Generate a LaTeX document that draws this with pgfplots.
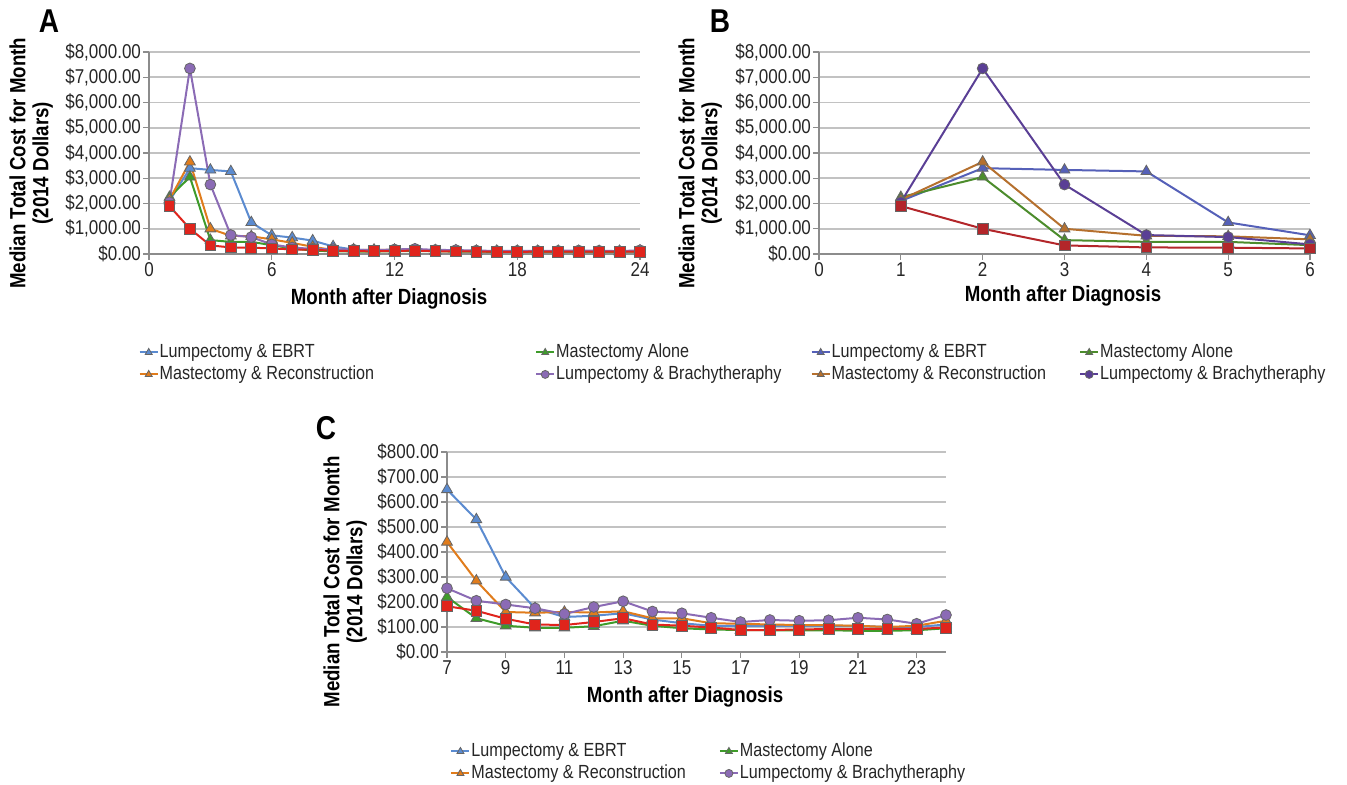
\documentclass[border=0pt]{standalone}
\usepackage{fontspec}
\setmainfont{Liberation Sans}[FakeStretch=0.85]
\usepackage{pgfplots}
\usepackage{pgfplotstable}
\pgfplotsset{compat=1.18}

\definecolor{ebrtA}{HTML}{5B8BD0}
\definecolor{aloneA}{HTML}{3E9B2A}
\definecolor{reconA}{HTML}{E07C1C}
\definecolor{brachyA}{HTML}{8B6BB5}
\definecolor{redA}{HTML}{E0241C}
\definecolor{ebrtB}{HTML}{5560B8}
\definecolor{aloneB}{HTML}{4C8C2C}
\definecolor{reconB}{HTML}{B5702E}
\definecolor{brachyB}{HTML}{5A3F95}
\definecolor{redB}{HTML}{B3262A}

\pgfplotstableread{
month ebrt alone recon brachy red
1 2100 2250 2150 2050 1900
2 3400 3050 3650 7350 1000
3 3330 550 1000 2750 340
4 3270 480 720 750 260
5 1250 480 700 670 250
6 740 350 580 380 220
7 650 220 440 255 183
8 530 135 285 205 165
9 300 105 160 190 133
10 175 97 157 175 110
11 140 97 160 152 108
12 145 103 158 180 120
13 155 125 163 203 135
14 130 105 135 162 110
15 115 95 135 155 105
16 105 90 115 137 98
17 105 88 113 120 88
18 105 87 110 128 88
19 105 87 108 125 90
20 105 87 107 127 92
21 105 85 105 137 92
22 100 85 100 130 93
23 100 87 105 113 92
24 110 95 125 148 98
}\costdata

\pgfplotsset{
  panel/.style={
    scale only axis,
    axis x line*=bottom, axis y line*=left,
    axis line style={draw=black!45, line width=0.8pt},
    ymajorgrids, grid style={draw=black!24, line width=0.8pt},
    tick align=outside, major tick length=3pt,
    tick style={draw=black!45, line width=0.6pt},
    tick label style={font=\fontsize{10}{11}\selectfont, text=black!85},
    yticklabel style={xshift=2.5pt},
    xticklabel style={inner sep=1pt},
    /pgf/number format/assume math mode=true,
    label style={font=\bfseries\fontsize{11}{11.5}\selectfont},
    ylabel style={align=center, anchor=center},
    xlabel style={anchor=center},
    legend columns=2,
    legend cell align=left,
    legend style={draw=none, fill=none, anchor=north west,
      font=\fontsize{9.5}{11}\selectfont, text=black!85,
      nodes={inner sep=0.5pt, text height=7.5pt, text depth=2.5pt}},
    legend image code/.code={\draw[mark repeat=2,mark phase=2,##1] plot coordinates {(0pt,0pt)(4.5pt,0pt)(9pt,0pt)};},
    legend image post style={mark size=2pt},
    clip=false,
    every axis plot/.append style={line width=1pt, mark size=2.7pt,
      mark options={draw=black!60, line width=0.4pt, solid}},
  },
  dollarsK/.style={ymin=0, ymax=8000, ytick={0,1000,...,8000},
    yticklabels={{\$0.00},{\$1,000.00},{\$2,000.00},{\$3,000.00},{\$4,000.00},{\$5,000.00},{\$6,000.00},{\$7,000.00},{\$8,000.00}}},
}

\begin{document}
\begin{tikzpicture}
\path[use as bounding box] (0,0) rectangle (673.5pt,-392.5pt);

% Panel letters
\node[font=\bfseries\fontsize{16.5}{17}\selectfont] at (24.5pt,-10.5pt) {A};
\node[font=\bfseries\fontsize{16.5}{17}\selectfont] at (360pt,-10.5pt) {B};
\node[font=\bfseries\fontsize{16.5}{17}\selectfont] at (163pt,-214pt) {C};

% Panel A
\begin{axis}[panel, dollarsK,
  at={(74.5pt,-127pt)}, anchor=south west,
  width=245.5pt, height=101pt,
  xmin=0, xmax=24, xtick={0,6,12,18,24},
  xlabel={Month after Diagnosis},
  xlabel style={at={(rel axis cs:0.489,-0.22)}},
  ylabel={Median Total Cost for Month\\(2014 Dollars)},
  ylabel style={at={(rel axis cs:-0.240,0.45)}},
  legend style={at={(rel axis cs:-0.034,-0.411)},
    /tikz/every even column/.append style={column sep=80pt}},
]
\addplot[color=ebrtA, mark=triangle*, mark size=3.1pt] table[x=month,y=ebrt] {\costdata};
\addlegendentry{Lumpectomy \& EBRT}
\addplot[color=aloneA, mark=triangle*, mark size=3.1pt] table[x=month,y=alone] {\costdata};
\addlegendentry{Mastectomy Alone}
\addplot[color=reconA, mark=triangle*, mark size=3.1pt] table[x=month,y=recon] {\costdata};
\addlegendentry{Mastectomy \& Reconstruction}
\addplot[color=brachyA, mark=*] table[x=month,y=brachy] {\costdata};
\addlegendentry{Lumpectomy \& Brachytheraphy}
\addplot[color=redA, mark=square*, forget plot] table[x=month,y=red] {\costdata};
\end{axis}

% Panel B
\begin{axis}[panel, dollarsK,
  at={(409.5pt,-127pt)}, anchor=south west,
  width=245.5pt, height=101pt,
  xmin=0, xmax=6, xtick={0,1,...,6},
  xlabel={Month after Diagnosis},
  xlabel style={at={(rel axis cs:0.497,-0.207)}},
  ylabel={Median Total Cost for Month\\(2014 Dollars)},
  ylabel style={at={(rel axis cs:-0.242,0.45)}},
  legend style={at={(rel axis cs:-0.030,-0.411)},
    /tikz/every even column/.append style={column sep=16pt}},
]
\addplot[color=ebrtB, mark=triangle*, mark size=3.1pt, restrict x to domain=1:6] table[x=month,y=ebrt] {\costdata};
\addlegendentry{Lumpectomy \& EBRT}
\addplot[color=aloneB, mark=triangle*, mark size=3.1pt, restrict x to domain=1:6] table[x=month,y=alone] {\costdata};
\addlegendentry{Mastectomy Alone}
\addplot[color=reconB, mark=triangle*, mark size=3.1pt, restrict x to domain=1:6] table[x=month,y=recon] {\costdata};
\addlegendentry{Mastectomy \& Reconstruction}
\addplot[color=brachyB, mark=*, restrict x to domain=1:6] table[x=month,y=brachy] {\costdata};
\addlegendentry{Lumpectomy \& Brachytheraphy}
\addplot[color=redB, mark=square*, forget plot, restrict x to domain=1:6] table[x=month,y=red] {\costdata};
\end{axis}

% Panel C
\begin{axis}[panel,
  at={(223.5pt,-326pt)}, anchor=south west,
  width=249.5pt, height=100pt,
  xmin=7, xmax=24, xtick={7,9,...,23},
  ymin=0, ymax=800, ytick={0,100,...,800},
  yticklabels={{\$0.00},{\$100.00},{\$200.00},{\$300.00},{\$400.00},{\$500.00},{\$600.00},{\$700.00},{\$800.00}},
  xlabel={Month after Diagnosis},
  xlabel style={at={(rel axis cs:0.477,-0.225)}},
  ylabel={Median Total Cost for Month\\(2014 Dollars)},
  ylabel style={at={(rel axis cs:-0.204,0.35)}},
  legend style={at={(rel axis cs:-0.006,-0.42)},
    /tikz/every even column/.append style={column sep=16pt}},
]
\addplot[color=ebrtA, mark=triangle*, mark size=3.1pt, restrict x to domain=7:24] table[x=month,y=ebrt] {\costdata};
\addlegendentry{Lumpectomy \& EBRT}
\addplot[color=aloneA, mark=triangle*, mark size=3.1pt, restrict x to domain=7:24] table[x=month,y=alone] {\costdata};
\addlegendentry{Mastectomy Alone}
\addplot[color=reconA, mark=triangle*, mark size=3.1pt, restrict x to domain=7:24] table[x=month,y=recon] {\costdata};
\addlegendentry{Mastectomy \& Reconstruction}
\addplot[color=brachyA, mark=*, restrict x to domain=7:24] table[x=month,y=brachy] {\costdata};
\addlegendentry{Lumpectomy \& Brachytheraphy}
\addplot[color=redA, mark=square*, forget plot, restrict x to domain=7:24] table[x=month,y=red] {\costdata};
\end{axis}
\end{tikzpicture}
\end{document}
